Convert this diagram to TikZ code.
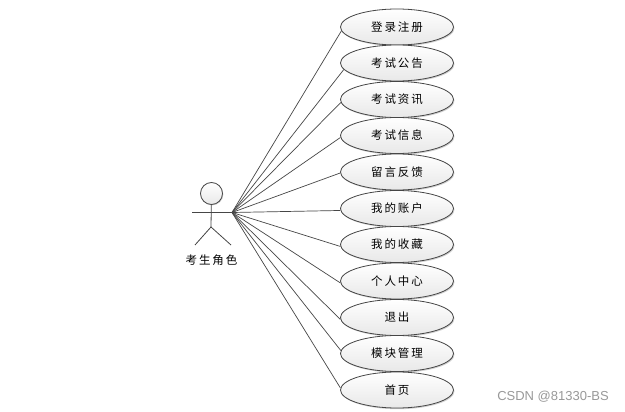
\documentclass[tikz,border=0pt]{standalone}
\usepackage{fontspec}
\setmainfont{Liberation Sans}
\newfontfamily\cjk[LetterSpace=16]{Noto Sans CJK SC}
\usetikzlibrary{shadows,shapes.geometric}
\definecolor{linec}{RGB}{70,70,70}
\tikzset{
  usecase/.style={ellipse,draw=linec,line width=0.8pt,minimum width=113pt,minimum height=36pt,inner sep=0pt,
    top color=white,bottom color=black!9,drop shadow={shadow xshift=1pt,shadow yshift=-1.2pt,fill=black!30,opacity=0.6},
    font=\cjk\fontsize{11.5}{12}\selectfont},
  conn/.style={draw=linec,line width=0.7pt},
  actorline/.style={draw=linec,line width=0.8pt},
  lab/.style={font=\cjk\fontsize{11.5}{12}\selectfont,inner sep=0pt}
}
\begin{document}
\begin{tikzpicture}[x=1pt,y=-1pt]
\useasboundingbox (0,0) rectangle (625,412);
\fill[white] (0,0) rectangle (625,412);
\coordinate (hub) at (232,212.5);
\coordinate (armL) at (192,212.5);
\coordinate (hip) at (211,227);
\coordinate (footL) at (195,245);
\coordinate (footR) at (231,245);
\node[usecase] (u1) at (397,27) {登录注册};
\node[usecase] (u2) at (397,63) {考试公告};
\node[usecase] (u3) at (397,99.5) {考试资讯};
\node[usecase] (u4) at (397,135.5) {考试信息};
\node[usecase] (u5) at (397,172) {留言反馈};
\node[usecase] (u6) at (397,208.5) {我的账户};
\node[usecase] (u7) at (397,244.5) {我的收藏};
\node[usecase] (u8) at (397,281) {个人中心};
\node[usecase] (u9) at (397,317.5) {退出};
\node[usecase] (u10) at (397,353.5) {模块管理};
\node[usecase] (u11) at (397,390) {首页};
\foreach \i/\a in {1/184.9,2/187.3,3/183.2,4/182.5,5/181,6/182.8,7/182.2,8/182,9/182.6,10/177.2,11/178}
  \draw[conn] (hub) -- (u\i.\a);
\node[circle,draw=linec,line width=0.8pt,minimum size=22pt,inner sep=0pt,top color=white,bottom color=black!9,
  drop shadow={shadow xshift=0.8pt,shadow yshift=-0.8pt,fill=black!30,opacity=0.6}] (head) at (211.5,193.5) {};
\draw[actorline,line width=1.1pt] (armL) -- (hub);
\draw[actorline] (head) -- (hip);
\draw[actorline] (footL) -- (hip) -- (footR);
\node[lab] (actor) at (211.5,260) {考生角色};
\node[inner sep=0pt,text=black!40,font=\fontsize{13}{13}\selectfont] (wm) at (553,397) {CSDN @81330-BS};
\end{tikzpicture}
\end{document}
